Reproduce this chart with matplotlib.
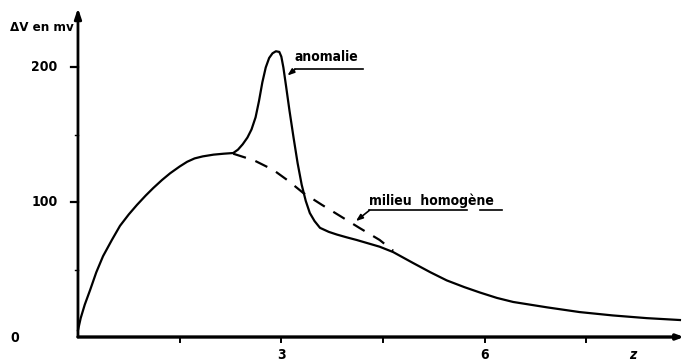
import matplotlib.pyplot as plt

# potential difference profile, in mV, along the traverse
x_profil = [0.0, 0.04, 0.10, 0.18, 0.27, 0.37, 0.50, 0.62, 0.75, 0.87, 1.00, 1.11, 1.24,
            1.36, 1.50, 1.61, 1.72, 1.84, 2.00, 2.15, 2.29, 2.36, 2.43, 2.50, 2.56, 2.62,
            2.67, 2.72, 2.77, 2.82, 2.87, 2.92, 2.97, 3.00, 3.03, 3.07, 3.12, 3.18, 3.24,
            3.30, 3.36, 3.42, 3.49, 3.57, 3.70, 3.82, 3.96, 4.11, 4.28, 4.45, 4.65, 4.94,
            5.20, 5.44, 5.70, 5.93, 6.18, 6.42, 6.67, 6.92, 7.40, 7.89, 8.39, 8.88]
dv_profil = [5, 14, 24, 35, 48, 60, 72, 82.5, 91, 98, 105, 110.5, 116.5,
             121.5, 126.5, 130, 132.5, 134, 135.3, 136, 136.5, 139, 143, 148, 154, 163,
             175, 189, 200, 207, 210.5, 212, 211.5, 208, 200, 186, 168, 148, 129,
             113, 101, 92, 86, 81, 78, 76, 74, 72, 69.5, 67, 63, 55,
             48, 42, 37, 33, 29, 26, 24, 22, 18.5, 16, 14, 12.6]

# response of a homogeneous ground over the same stretch
x_homogene = [2.29, 2.60, 2.88, 3.10, 3.32, 3.60, 3.86, 4.15, 4.45, 4.65]
dv_homogene = [136, 131, 124, 116, 107, 98, 90, 81, 72, 64]

y_ticks = [100, 200]
x_ticks = [1.5, 3, 4.5, 6, 7.5]
x_labels = {3: "3", 6: "6"}

fnt = dict(family=["DejaVu Sans"], fontweight="bold", fontstretch="condensed")

fig = plt.figure(figsize=(6.84, 3.63), dpi=100)
ax = fig.add_axes([0.114, 0.0716, 0.886, 0.906])
ax.set_xlim(0, 8.94)
ax.set_ylim(0, 244)
for s in ax.spines.values():
    s.set_visible(False)
ax.set_xticks([])
ax.set_yticks([])

# axes drawn by hand with arrow heads
ax.annotate("", xy=(0, 1.0), xytext=(0, 0), xycoords="axes fraction",
            arrowprops=dict(arrowstyle="-|>,head_length=0.6,head_width=0.2",
                            lw=2, color="black", shrinkA=0, shrinkB=0))
ax.annotate("", xy=(1.0, 0), xytext=(0, 0), xycoords="axes fraction",
            arrowprops=dict(arrowstyle="-|>,head_length=0.4,head_width=0.15",
                            lw=2.4, color="black", shrinkA=0, shrinkB=0))

for t in y_ticks:
    ax.plot([-0.1, 0], [t, t], color="black", lw=1.6, clip_on=False)
    ax.text(-0.3, t, str(t), ha="right", va="center", fontsize=10, **fnt)
for t in [50, 150]:
    ax.plot([-0.04, 0], [t, t], color="black", lw=1, clip_on=False)
ax.text(-0.93, -1, "0", ha="center", va="center", fontsize=10, **fnt)

for t in x_ticks:
    ax.plot([t, t], [0, -4], color="black", lw=1.4, clip_on=False)
    if t in x_labels:
        ax.text(t, -13, x_labels[t], ha="center", va="center", fontsize=10, **fnt)
ax.text(8.18, -13, "z", ha="center", va="center", fontsize=10, style="italic", **fnt)

ax.text(-0.06, 230, "ΔV en mv", ha="right", va="center", fontsize=9.5, **fnt)

ax.plot(x_profil, dv_profil, color="black", lw=1.6, solid_joinstyle="round", clip_on=False)
ax.plot(x_homogene, dv_homogene, color="black", lw=1.6, dashes=(6, 4.5))

# labels with underline and leader line
ax.text(3.2, 208, "anomalie", ha="left", va="center", fontsize=10, **fnt)
ax.plot([3.2, 4.2], [198.5, 198.5], color="black", lw=1.2)
ax.annotate("", xy=(3.09, 194), xytext=(3.2, 198.5),
            arrowprops=dict(arrowstyle="-|>,head_length=0.4,head_width=0.15",
                            lw=1.2, color="black", shrinkA=0, shrinkB=0))

ax.text(4.3, 101, "milieu  homogène", ha="left", va="center", fontsize=10, **fnt)
ax.plot([4.3, 5.74], [94, 94], color="black", lw=1.2)
ax.plot([5.93, 6.25], [94, 94], color="black", lw=1.2)
ax.annotate("", xy=(4.1, 86), xytext=(4.3, 94),
            arrowprops=dict(arrowstyle="-|>,head_length=0.4,head_width=0.15",
                            lw=1.2, color="black", shrinkA=0, shrinkB=0))

fig.savefig("out.png", dpi=100)
